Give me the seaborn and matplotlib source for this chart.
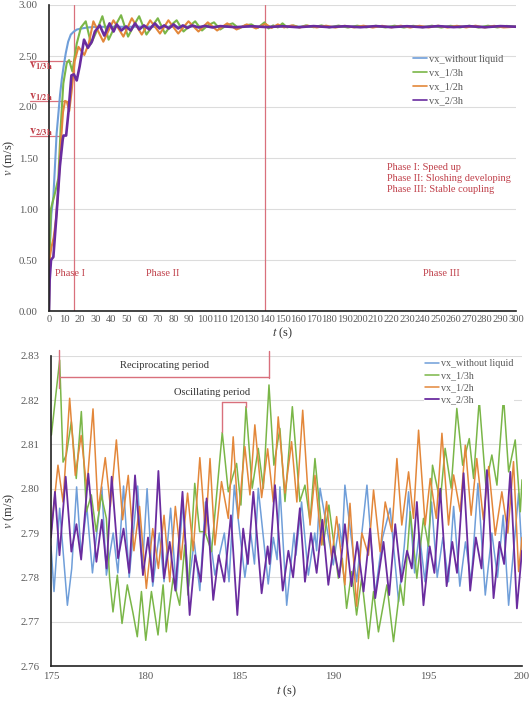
import numpy as np
import pandas as pd
import matplotlib
matplotlib.use("Agg")
import matplotlib.pyplot as plt
import seaborn as sns
from matplotlib.ticker import MultipleLocator, FixedLocator, FuncFormatter

# ---------------- data: top panel (0-300 s) ----------------
top_blue_t = [0, 0.5, 1.5, 2.8, 3.8, 4.9, 6.0, 7.1, 8.2, 9.4, 10.8, 12.3, 14, 16, 18, 21, 25, 30,
              40, 50, 60, 70, 80, 90, 100, 110, 120, 130, 140, 150, 160, 170, 180, 190, 200,
              210, 220, 230, 240, 250, 260, 270, 280, 290, 300]
top_blue_v = [0, 0.62, 0.95, 1.12, 1.41, 1.74, 1.93, 2.12, 2.27, 2.40, 2.53, 2.64, 2.71, 2.74, 2.76, 2.77, 2.78, 2.785,
              2.787, 2.786, 2.788, 2.786, 2.787, 2.788, 2.786, 2.787, 2.786, 2.788, 2.787, 2.786, 2.788, 2.787, 2.786, 2.787, 2.788,
              2.786, 2.787, 2.786, 2.788, 2.787, 2.786, 2.788, 2.787, 2.786, 2.787]

top_green_t = [0, 0.3, 1.2, 3.9, 6.0, 7.5, 9.2, 11.4, 12.9, 15.0, 17.8, 20.5, 23.6, 27.0, 30.5, 34.3, 38.3,
               42.0, 46.3, 50.8, 54.5, 57.9, 62.6, 66.2, 69.9, 74.5, 78.2, 82.0, 86.4, 90.0, 93.9, 98.3,
               102, 106, 110, 114, 118, 122, 126, 130, 134, 138.5, 141, 144, 147, 150, 153, 157, 161, 165,
               170, 175, 180, 186, 192, 198, 204, 210, 216, 222, 228, 234, 240, 246, 252, 258, 264, 270,
               276, 282, 288, 294, 300]
top_green_v = [0, 0.5, 1.0, 1.16, 1.30, 1.80, 2.23, 2.43, 2.46, 2.35, 2.62, 2.78, 2.84, 2.62, 2.74, 2.89, 2.66,
               2.78, 2.90, 2.69, 2.80, 2.89, 2.71, 2.79, 2.87, 2.72, 2.80, 2.85, 2.74, 2.79, 2.84, 2.75,
               2.80, 2.83, 2.76, 2.80, 2.82, 2.77, 2.80, 2.81, 2.775, 2.83, 2.77, 2.80, 2.78, 2.82, 2.78, 2.80, 2.78, 2.80,
               2.782, 2.80, 2.78, 2.798, 2.779, 2.797, 2.781, 2.796, 2.78, 2.797, 2.779, 2.796, 2.781, 2.797, 2.779, 2.796, 2.78, 2.797,
               2.779, 2.797, 2.78, 2.795, 2.786]

top_orange_t = [0, 0.3, 1.5, 3.0, 4.5, 6.0, 7.5, 9.0, 10.3, 11.5, 13.0, 14.5, 16.5, 18.9, 22.7, 25.5, 28.5,
                34.9, 41.4, 47.8, 53.2, 59.6, 65.0, 71.3, 76.7, 83.0, 89.6, 96.0, 102, 108, 114.5, 120.5,
                127, 133, 139, 143, 147, 151, 156, 161, 166, 172, 178, 184, 190, 196, 202, 208, 214, 220,
                226, 232, 238, 244, 250, 256, 262, 268, 274, 280, 286, 292, 300]
top_orange_v = [0, 0.5, 0.62, 0.72, 0.9, 1.2, 1.62, 1.95, 2.06, 2.05, 1.96, 2.15, 2.45, 2.59, 2.51, 2.62, 2.84,
                2.64, 2.85, 2.69, 2.87, 2.71, 2.85, 2.72, 2.85, 2.72, 2.84, 2.74, 2.83, 2.75, 2.82, 2.76,
                2.81, 2.77, 2.815, 2.775, 2.81, 2.78, 2.80, 2.78, 2.798, 2.78, 2.797, 2.779, 2.796, 2.78, 2.797, 2.779, 2.796, 2.78,
                2.797, 2.779, 2.796, 2.78, 2.797, 2.779, 2.796, 2.78, 2.797, 2.779, 2.796, 2.78, 2.787]

top_purple_t = [0, 0.4, 1.3, 2.8, 4.9, 7.0, 8.8, 9.3, 11.0, 12.5, 14.4, 16.0, 17.8, 19.7, 22.5, 25.0, 27.5,
                29.5, 32.6, 35.5, 38.9, 41.5, 43.5, 46.5, 49.5, 52.5, 55.3, 58.0, 61.0, 64.5, 68.0, 71.0,
                74.0, 77.0, 80.0, 83.0, 86.0, 89.0, 92.0, 96, 100, 105, 110, 120, 130, 140, 150, 160, 170,
                180, 190, 200, 210, 220, 230, 240, 250, 260, 270, 280, 290, 300]
top_purple_v = [0, 0.3, 0.5, 0.53, 0.96, 1.42, 1.68, 1.72, 1.72, 1.95, 2.31, 2.32, 2.26, 2.40, 2.66, 2.58, 2.64,
                2.74, 2.80, 2.70, 2.82, 2.74, 2.81, 2.75, 2.79, 2.75, 2.82, 2.76, 2.80, 2.76, 2.82, 2.77,
                2.80, 2.77, 2.81, 2.77, 2.80, 2.775, 2.80, 2.78, 2.795, 2.78, 2.793, 2.782, 2.792, 2.783, 2.792, 2.782, 2.793,
                2.783, 2.792, 2.782, 2.793, 2.783, 2.792, 2.782, 2.793, 2.783, 2.792, 2.782, 2.793, 2.787]

# ---------------- data: bottom panel (175-200 s) ----------------
bot_blue_t = [175.0, 175.16, 175.46, 175.87, 176.1, 176.36, 176.6, 176.9, 177.2, 177.7, 177.94, 178.3, 178.55,
              178.85, 179.15, 179.6, 179.85, 180.1, 180.4, 180.75, 181.0, 181.35, 181.65, 182.0, 182.3, 182.6,
              182.9, 183.2, 183.7, 184.2, 184.45, 184.73, 185.29, 185.6, 185.8, 186.0, 186.53, 186.8, 187.0,
              187.15, 187.51, 187.9, 188.0, 188.3, 188.66, 189.0, 189.1, 189.28, 189.98, 190.3, 190.45, 190.6,
              191.22, 191.5, 191.77, 192.2, 192.6, 193.0, 193.45, 193.75, 193.98, 194.3, 194.55, 194.85, 195.2,
              195.5, 195.8, 196.1, 196.37, 196.7, 197.0, 197.3, 197.66, 198.05, 198.4, 198.7, 199.0, 199.29,
              199.55, 199.82, 200.0]
bot_blue_v = [2.787, 2.7768, 2.7956, 2.7737, 2.782, 2.8004, 2.785, 2.796, 2.781, 2.8004, 2.7805, 2.790, 2.781,
              2.8006, 2.780, 2.8006, 2.782, 2.800, 2.778, 2.790, 2.779, 2.7956, 2.777, 2.797, 2.778, 2.788,
              2.777, 2.797, 2.7805, 2.790, 2.779, 2.8008, 2.780, 2.790, 2.783, 2.8001, 2.7785, 2.789, 2.784,
              2.8004, 2.7737, 2.790, 2.785, 2.797, 2.7805, 2.790, 2.786, 2.8001, 2.7828, 2.792, 2.787, 2.8008,
              2.779, 2.790, 2.8008, 2.776, 2.789, 2.7956, 2.7745, 2.787, 2.7993, 2.781, 2.790, 2.779, 2.797,
              2.780, 2.789, 2.779, 2.796, 2.778, 2.788, 2.779, 2.8012, 2.776, 2.790, 2.780, 2.794, 2.7737,
              2.786, 2.799, 2.785]

bot_green_t = [175.02, 175.46, 175.64, 175.81, 176.08, 176.34, 176.61, 176.88, 177.14, 177.4, 177.67, 177.94,
               178.11, 178.29, 178.52, 178.77, 179.05, 179.35, 179.58, 179.8, 180.03, 180.33, 180.68, 180.95,
               181.12, 181.48, 181.83, 182.1, 182.27, 182.63, 182.89, 183.17, 183.52, 184.09, 184.41, 184.85,
               185.08, 185.35, 185.68, 186.0, 186.27, 186.57, 186.83, 187.15, 187.42, 187.81, 188.21, 188.48,
               188.75, 189.01, 189.45, 189.75, 190.25, 190.46, 190.69, 190.96, 191.22, 191.49, 191.85, 192.12,
               192.38, 192.83, 193.18, 193.54, 193.71, 194.07, 194.42, 194.77, 195.04, 195.25, 195.66, 195.92,
               196.24, 196.54, 196.85, 197.2, 197.43, 197.73, 198.08, 198.4, 198.67, 199.02, 199.29, 199.64,
               199.91, 200.0]
bot_green_v = [2.8121, 2.829, 2.806, 2.8076, 2.8151, 2.8023, 2.8174, 2.7948, 2.7986, 2.7903, 2.7986, 2.7933,
               2.7798, 2.7722, 2.7805, 2.7696, 2.7783, 2.7720, 2.7666, 2.7768, 2.7658, 2.7768, 2.7670, 2.7783,
               2.7677, 2.7798, 2.7737, 2.7873, 2.7760, 2.8012, 2.7903, 2.7903, 2.7858, 2.8127, 2.7993, 2.8057,
               2.7963, 2.8185, 2.8001, 2.8091, 2.8001, 2.8234, 2.8053, 2.8136, 2.7971, 2.8185, 2.7971, 2.8008,
               2.7926, 2.8068, 2.7873, 2.7963, 2.7798, 2.7843, 2.7730, 2.7813, 2.7715, 2.7798, 2.7662, 2.7768,
               2.7677, 2.7783, 2.7655, 2.7783, 2.7737, 2.7948, 2.7798, 2.7933, 2.7870, 2.8053, 2.7971, 2.8091,
               2.8001, 2.8181, 2.8053, 2.8113, 2.8023, 2.8200, 2.8008, 2.8076, 2.8008, 2.8207, 2.8038, 2.8110,
               2.7948, 2.8020]

bot_orange_t = [175.0, 175.37, 175.64, 175.99, 176.29, 176.6, 176.9, 177.23, 177.5, 177.88, 178.15, 178.47,
                178.8, 179.1, 179.4, 179.7, 180.06, 180.4, 180.7, 181.0, 181.3, 181.6, 181.9, 182.25, 182.55,
                182.9, 183.2, 183.44, 183.7, 184.05, 184.41, 184.67, 184.94, 185.29, 185.56, 185.82, 186.18,
                186.5, 186.8, 187.06, 187.42, 187.77, 188.05, 188.36, 188.75, 189.01, 189.36, 189.63, 189.9,
                190.16, 190.6, 190.87, 191.22, 191.5, 191.85, 192.12, 192.47, 192.74, 193.09, 193.36, 193.62,
                193.98, 194.24, 194.51, 194.86, 195.13, 195.45, 195.75, 196.1, 196.37, 196.72, 196.99, 197.3,
                197.6, 197.95, 198.23, 198.58, 198.93, 199.25, 199.55, 199.82, 200.0]
bot_orange_v = [2.790, 2.8053, 2.797, 2.8204, 2.803, 2.812, 2.800, 2.818, 2.795, 2.807, 2.796, 2.811,
                2.793, 2.803, 2.786, 2.796, 2.7775, 2.791, 2.782, 2.794, 2.779, 2.796, 2.784, 2.799, 2.786,
                2.807, 2.790, 2.8068, 2.7873, 2.8016, 2.7933, 2.8117, 2.7933, 2.8095, 2.7986, 2.8144, 2.7980,
                2.809, 2.797, 2.8162, 2.7990, 2.8106, 2.797, 2.8177, 2.7918, 2.803, 2.7873, 2.7971, 2.7843,
                2.7937, 2.7783, 2.7967, 2.7735, 2.790, 2.785, 2.7997, 2.7858, 2.797, 2.7903, 2.8068, 2.7918,
                2.8038, 2.7933, 2.8132, 2.7918, 2.8023, 2.7933, 2.8125, 2.7918, 2.8031, 2.7948, 2.8098, 2.794,
                2.8068, 2.793, 2.805, 2.7895, 2.7993, 2.790, 2.8061, 2.7813, 2.789]

bot_purple_t = [175.0, 175.21, 175.45, 175.78, 176.08, 176.35, 176.6, 176.98, 177.41, 177.7, 177.95, 178.22,
                178.56, 178.85, 179.15, 179.46, 179.88, 180.15, 180.4, 180.7, 181.0, 181.3, 181.6, 181.98,
                182.36, 182.65, 182.95, 183.26, 183.61, 183.9, 184.2, 184.55, 184.89, 185.2, 185.45, 185.74,
                186.18, 186.5, 186.6, 186.89, 187.3, 187.6, 187.85, 188.21, 188.48, 188.8, 189.1, 189.4,
                189.72, 190.0, 190.3, 190.6, 190.95, 191.25, 191.59, 191.94, 192.21, 192.65, 192.95, 193.27,
                193.6, 193.9, 194.15, 194.42, 194.77, 195.1, 195.35, 195.66, 196.0, 196.3, 196.55, 196.9,
                197.25, 197.55, 197.85, 198.14, 198.49, 198.8, 199.05, 199.38, 199.73, 200.0]
bot_purple_v = [2.789, 2.7993, 2.785, 2.8027, 2.7858, 2.792, 2.784, 2.8034, 2.7835, 2.793, 2.782, 2.8027,
                2.7843, 2.791, 2.781, 2.803, 2.7805, 2.789, 2.779, 2.804, 2.7798, 2.788, 2.777, 2.7993,
                2.7715, 2.785, 2.779, 2.7978, 2.7749, 2.785, 2.779, 2.794, 2.7715, 2.791, 2.783, 2.7993,
                2.7764, 2.787, 2.783, 2.8008, 2.777, 2.786, 2.780, 2.7956, 2.779, 2.790, 2.781, 2.793,
                2.7783, 2.787, 2.780, 2.792, 2.778, 2.788, 2.7768, 2.791, 2.7753, 2.788, 2.776, 2.792,
                2.779, 2.786, 2.782, 2.797, 2.7737, 2.787, 2.781, 2.800, 2.778, 2.788, 2.781, 2.8035,
                2.777, 2.789, 2.782, 2.8042, 2.7753, 2.788, 2.783, 2.8038, 2.773, 2.786]

series_names = ["vx_without liquid", "vx_1/3h", "vx_1/2h", "vx_2/3h"]
top_yticks = [0.0, 0.5, 1.0, 1.5, 2.0, 2.5, 3.0]
top_xticks = list(range(0, 301, 10))
bot_yticks = [2.76, 2.77, 2.78, 2.79, 2.80, 2.81, 2.82, 2.83]
bot_xticks = [175, 180, 185, 190, 195, 200]
phase_bounds = [16, 139]
v_marks = [2.45, 2.06, 1.72]
v_mark_ends = [14.0, 12.0, 9.0]
v_mark_labels = [r"$\mathbf{v}_{\mathbf{1/3h}}$", r"$\mathbf{v}_{\mathbf{1/2h}}$", r"$\mathbf{v}_{\mathbf{2/3h}}$"]

# ---------------- styling ----------------
sns.set_theme(style="white")
plt.rcParams["font.family"] = ["Liberation Serif", "DejaVu Serif"]
plt.rcParams["mathtext.fontset"] = "stix"

colors = ["#6f9ed9", "#7ab648", "#e3873a", "#6a2c9f"]
red_line = "#d9707c"
red_text = "#c0404a"
tick_gray = "#595959"

fig = plt.figure(figsize=(5.31, 7.02), dpi=100)
ax1 = fig.add_axes([49/531, 1-311/702, (516-49)/531, (311-5)/702])
ax2 = fig.add_axes([51/531, 1-666/702, (522-51)/531, (666-355.7)/702])

def frame(t, v, name):
    return pd.DataFrame({"t": t, "v": v, "series": name})

top_sets = [(top_blue_t, top_blue_v), (top_green_t, top_green_v),
            (top_orange_t, top_orange_v), (top_purple_t, top_purple_v)]
bot_sets = [(bot_blue_t, bot_blue_v), (bot_green_t, bot_green_v),
            (bot_orange_t, bot_orange_v), (bot_purple_t, bot_purple_v)]
top_lw = [1.5, 1.5, 1.5, 1.9]
bot_lw = [1.1, 1.1, 1.1, 1.3]

for (t, v), name, c, lw in zip(top_sets, series_names, colors, top_lw):
    sns.lineplot(data=frame(t, v, name), x="t", y="v", ax=ax1, color=c, lw=lw,
                 label=name, estimator=None, sort=False, solid_joinstyle="round")
for (t, v), name, c, lw in zip(bot_sets, series_names, colors, bot_lw):
    sns.lineplot(data=frame(t, v, name), x="t", y="v", ax=ax2, color=c, lw=lw,
                 label=name, estimator=None, sort=False, solid_joinstyle="round")

# ---- top axes ----
ax1.set_xlim(0, 300)
ax1.set_ylim(0, 3.0)
ax1.set_yticks(top_yticks)
ax1.yaxis.set_major_formatter(FuncFormatter(lambda x, p: f"{x:.2f}"))
ax1.set_xticks(top_xticks)
ax1.set_xticklabels([str(x) for x in top_xticks])
ax1.grid(axis="y", color="#dcdcdc", lw=0.8)
ax1.set_axisbelow(True)
for s in ["top", "right"]:
    ax1.spines[s].set_visible(False)
for s in ["left", "bottom"]:
    ax1.spines[s].set_color("#222222")
    ax1.spines[s].set_linewidth(1.2)
ax1.tick_params(axis="x", direction="in", length=4, width=1, color="#222222",
                labelsize=7.6, labelcolor=tick_gray, pad=3)
ax1.tick_params(axis="y", length=0, labelsize=7.8, labelcolor=tick_gray, pad=8)
ax1.set_xlabel("$t$ (s)", fontsize=9, color="#333333", labelpad=1)
ax1.set_ylabel("$v$ (m/s)", fontsize=9, color="#333333")
ax1.yaxis.set_label_coords(-0.069, 0.5)

for xb in phase_bounds:
    ax1.axvline(xb, color=red_line, lw=0.9, zorder=1)
label_centers = [2.40, 2.10, 1.755]
for vm, te, lab, yc in zip(v_marks, v_mark_ends, v_mark_labels, label_centers):
    ax1.plot([-12.5, te], [vm, vm], color=red_line, lw=0.9, clip_on=False, zorder=1)
    ax1.text(-12.9, yc, lab, color=red_text, fontsize=8.8, ha="left", va="center", clip_on=False)

ax1.text(3.9, 0.37, "Phase I", color=red_text, fontsize=7.5, ha="left", va="center")
ax1.text(62.4, 0.37, "Phase II", color=red_text, fontsize=7.5, ha="left", va="center")
ax1.text(240.5, 0.37, "Phase III", color=red_text, fontsize=7.5, ha="left", va="center")
for yy, s in zip([1.41, 1.30, 1.19], ["Phase I: Speed up", "Phase II: Sloshing developing",
                                      "Phase III: Stable coupling"]):
    ax1.text(217.4, yy, s, color=red_text, fontsize=7.5, ha="left", va="center")

leg1 = ax1.legend(loc="upper left", bbox_to_anchor=(0.779, 0.839), frameon=False,
                  fontsize=7.5, handlelength=1.4, handletextpad=0.15, labelspacing=0.45,
                  borderpad=0, borderaxespad=0)
for txt in leg1.get_texts():
    txt.set_color(tick_gray)
for h in leg1.get_lines():
    h.set_linewidth(1.2)

# ---- bottom axes ----
ax2.set_xlim(175, 200)
ax2.set_ylim(2.76, 2.83)
ax2.set_yticks(bot_yticks)
ax2.yaxis.set_major_formatter(FuncFormatter(lambda x, p: f"{x:.2f}"))
ax2.xaxis.set_major_locator(FixedLocator(bot_xticks))
ax2.xaxis.set_minor_locator(MultipleLocator(2.5))
ax2.grid(axis="y", color="#dcdcdc", lw=0.8)
ax2.set_axisbelow(True)
for s in ["top", "right"]:
    ax2.spines[s].set_visible(False)
for s in ["left", "bottom"]:
    ax2.spines[s].set_color("#222222")
    ax2.spines[s].set_linewidth(1.2)
ax2.tick_params(axis="x", which="both", direction="in", length=4, width=1, color="#222222",
                labelsize=7.8, labelcolor=tick_gray, pad=4)
ax2.tick_params(axis="y", length=0, labelsize=7.8, labelcolor=tick_gray, pad=8)
ax2.set_xlabel("$t$ (s)", fontsize=9, color="#333333", labelpad=2)
ax2.set_ylabel("$v$ (m/s)", fontsize=9, color="#333333")
ax2.yaxis.set_label_coords(-0.072, 0.5)

# reciprocating period bracket
ax2.plot([175.4, 186.57], [2.8252, 2.8252], color=red_line, lw=1.0, clip_on=False, zorder=5)
ax2.plot([175.4, 175.4], [2.8313, 2.8227], color=red_line, lw=1.0, clip_on=False, zorder=5)
ax2.plot([186.57, 186.57], [2.8310, 2.8250], color=red_line, lw=1.0, clip_on=False, zorder=5)
ax2.text(181.05, 2.8277, "Reciprocating period", fontsize=7.6, color="#333333",
         ha="center", va="center")
# oscillating period bracket
ax2.plot([184.1, 185.35], [2.8196, 2.8196], color=red_line, lw=1.0, zorder=5)
ax2.plot([184.1, 184.1], [2.8196, 2.8128], color=red_line, lw=1.0, zorder=5)
ax2.plot([185.35, 185.35], [2.8196, 2.8185], color=red_line, lw=1.0, zorder=5)
ax2.text(183.55, 2.8218, "Oscillating period", fontsize=7.6, color="#333333",
         ha="center", va="center")

leg2 = ax2.legend(loc="upper left", bbox_to_anchor=(0.792, 0.992), frameon=True,
                  fontsize=7.2, handlelength=1.4, handletextpad=0.15, labelspacing=0.3,
                  borderpad=0.1, borderaxespad=0, fancybox=False)
leg2.get_frame().set_facecolor("white")
leg2.get_frame().set_edgecolor("none")
leg2.get_frame().set_alpha(1.0)
for txt in leg2.get_texts():
    txt.set_color(tick_gray)

fig.savefig("out.png", dpi=100)
